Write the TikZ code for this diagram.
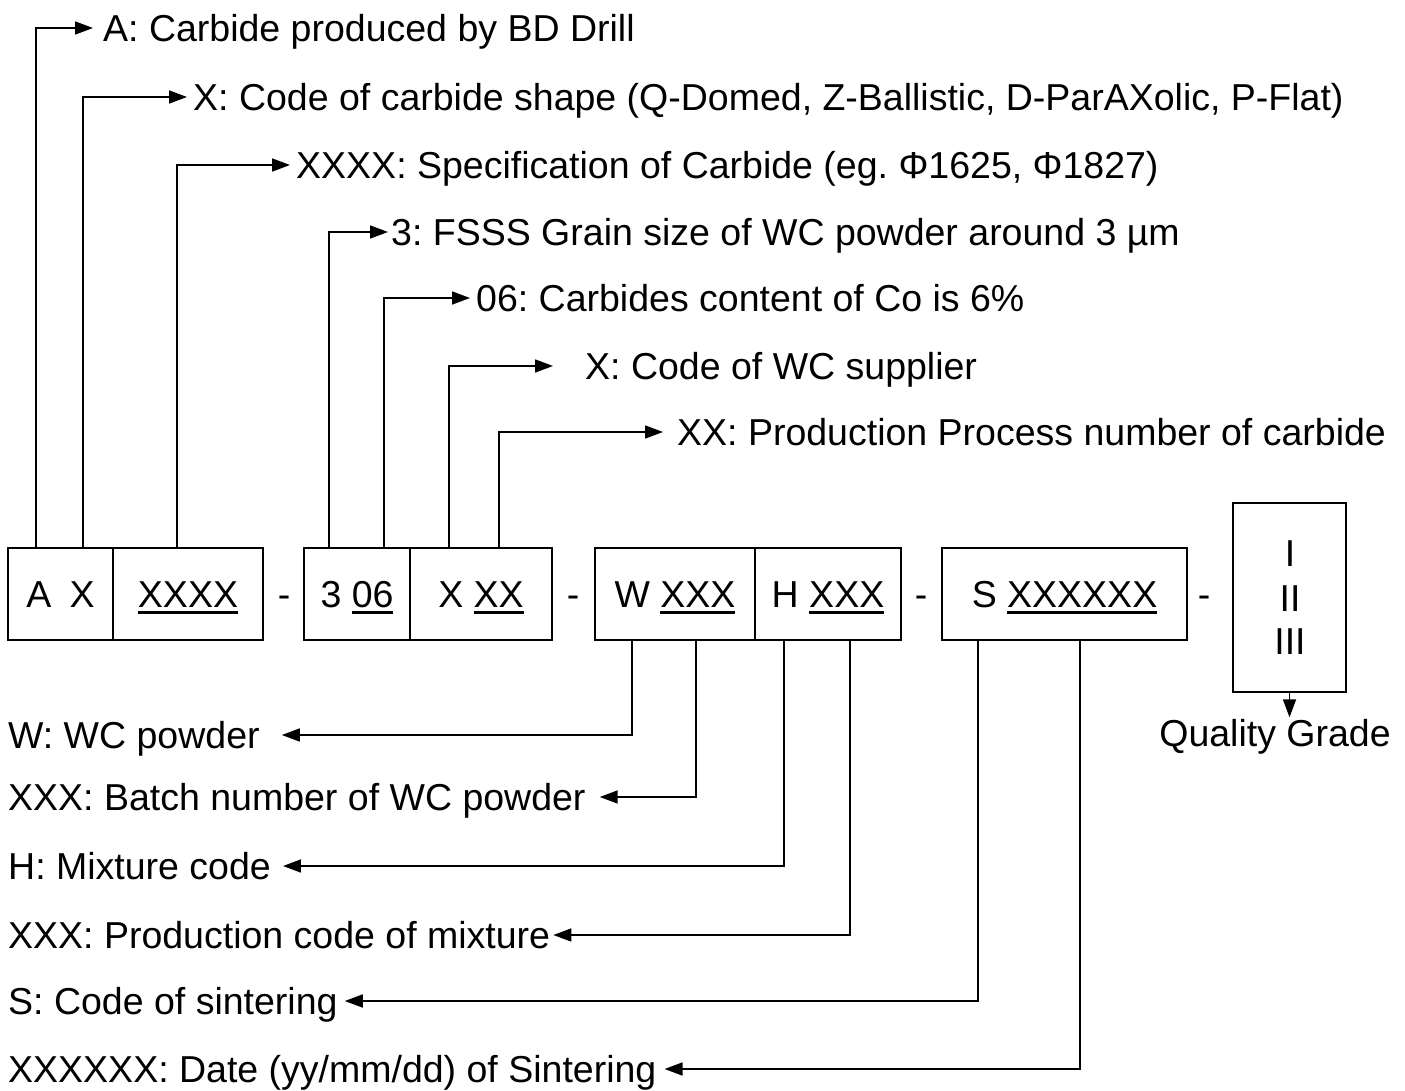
\documentclass[tikz,border=0pt]{standalone}
\usepackage{fontspec}
\setmainfont{Liberation Sans}
\usetikzlibrary{arrows.meta}
\frenchspacing
\newcommand\myul[1]{\setbox0\hbox{#1}\rlap{\rule[-6pt]{\wd0}{3pt}}\box0}
\begin{document}
\begin{tikzpicture}[x=1pt,y=-1pt,
  every node/.style={font=\fontsize{37.5}{44}\selectfont\frenchspacing, inner sep=0pt, text height=27pt, text depth=0pt},
  cell/.style={draw, line width=2.6pt, minimum height=92pt},
  lab/.style={anchor=west},
  conn/.style={line width=1.7pt},
  arr/.style={conn, -{Triangle[length=18pt,width=13pt]}}]
\useasboundingbox[fill=white] (0,0) rectangle (1405,1091);

% code boxes
\node[cell, minimum width=105] (c1) at (60.5,594) {A\hspace{18pt}X};
\node[cell, minimum width=150] (c2) at (188,594) {\myul{XXXX}};
\node (d1) at (284,594) {-};
\node[cell, minimum width=106] (c3) at (357,594) {3 \myul{06}};
\node[cell, minimum width=142] (c4) at (481,594) {X \myul{XX}};
\node (d2) at (573,594) {-};
\node[cell, minimum width=160] (c5) at (675,594) {W \myul{XXX}};
\node[cell, minimum width=146] (c6) at (828,594) {H \myul{XXX}};
\node (d3) at (921,594) {-};
\node[cell, minimum width=245] (c7) at (1064.5,594) {S \myul{XXXXXX}};
\node (d4) at (1204,594) {-};
\node[cell, minimum width=113, minimum height=189] (c8) at (1289.5,597.5) {};
\node (r1) at (1290,553) {I};
\node (r2) at (1290,598) {II};
\node (r3) at (1290,641) {III};
\node (qg) at (1275,733) {Quality Grade};

% top labels
\node[lab] (t1) at (103,28) {A: Carbide produced by BD Drill};
\node[lab] (t2) at (193,97) {X: Code of carbide shape (Q-Domed, Z-Ballistic, D-ParAXolic, P-Flat)};
\node[lab] (t3) at (296,165) {XXXX: Specification of Carbide (eg. Φ1625, Φ1827)};
\node[lab] (t4) at (391,232) {3: FSSS Grain size of WC powder around 3 µm};
\node[lab] (t5) at (476,298) {06: Carbides content of Co is 6\%};
\node[lab] (t6) at (585,366) {X: Code of WC supplier};
\node[lab] (t7) at (677,432) {XX: Production Process number of carbide};

% bottom labels
\node[lab] (b1) at (8,735) {W: WC powder};
\node[lab] (b2) at (8,797) {XXX: Batch number of WC powder};
\node[lab] (b3) at (8,866) {H: Mixture code};
\node[lab] (b4) at (8,935) {XXX: Production code of mixture};
\node[lab] (b5) at (8,1001) {S: Code of sintering};
\node[lab] (b6) at (8,1069) {XXXXXX: Date (yy/mm/dd) of Sintering};

% top connectors
\draw[arr] (c1.north -| 36,0) |- ([xshift=-10]t1.west);
\draw[arr] (c1.north -| 83,0) |- ([xshift=-6]t2.west);
\draw[arr] (c2.north -| 177,0) |- ([xshift=-6]t3.west);
\draw[arr] (c3.north -| 329,0) |- ([xshift=-3]t4.west);
\draw[arr] (c3.north -| 384,0) |- ([xshift=-6]t5.west);
\draw[arr] (c4.north -| 449,0) |- ([xshift=-32]t6.west);
\draw[arr] (c4.north -| 499,0) |- ([xshift=-14]t7.west);

% bottom connectors
\draw[arr] (c5.south -| 632,0) |- ([xshift=22]b1.east);
\draw[arr] (c5.south -| 696,0) |- ([xshift=14]b2.east);
\draw[arr] (c6.south -| 784,0) |- ([xshift=12]b3.east);
\draw[arr] (c6.south -| 850,0) |- ([xshift=3]b4.east);
\draw[arr] (c7.south -| 978,0) |- ([xshift=7]b5.east);
\draw[arr] (c7.south -| 1080,0) |- ([xshift=8]b6.east);

% quality grade
\draw[arr, shorten >=2pt] (c8.south) -- (qg.north -| c8.south);
\end{tikzpicture}
\end{document}
